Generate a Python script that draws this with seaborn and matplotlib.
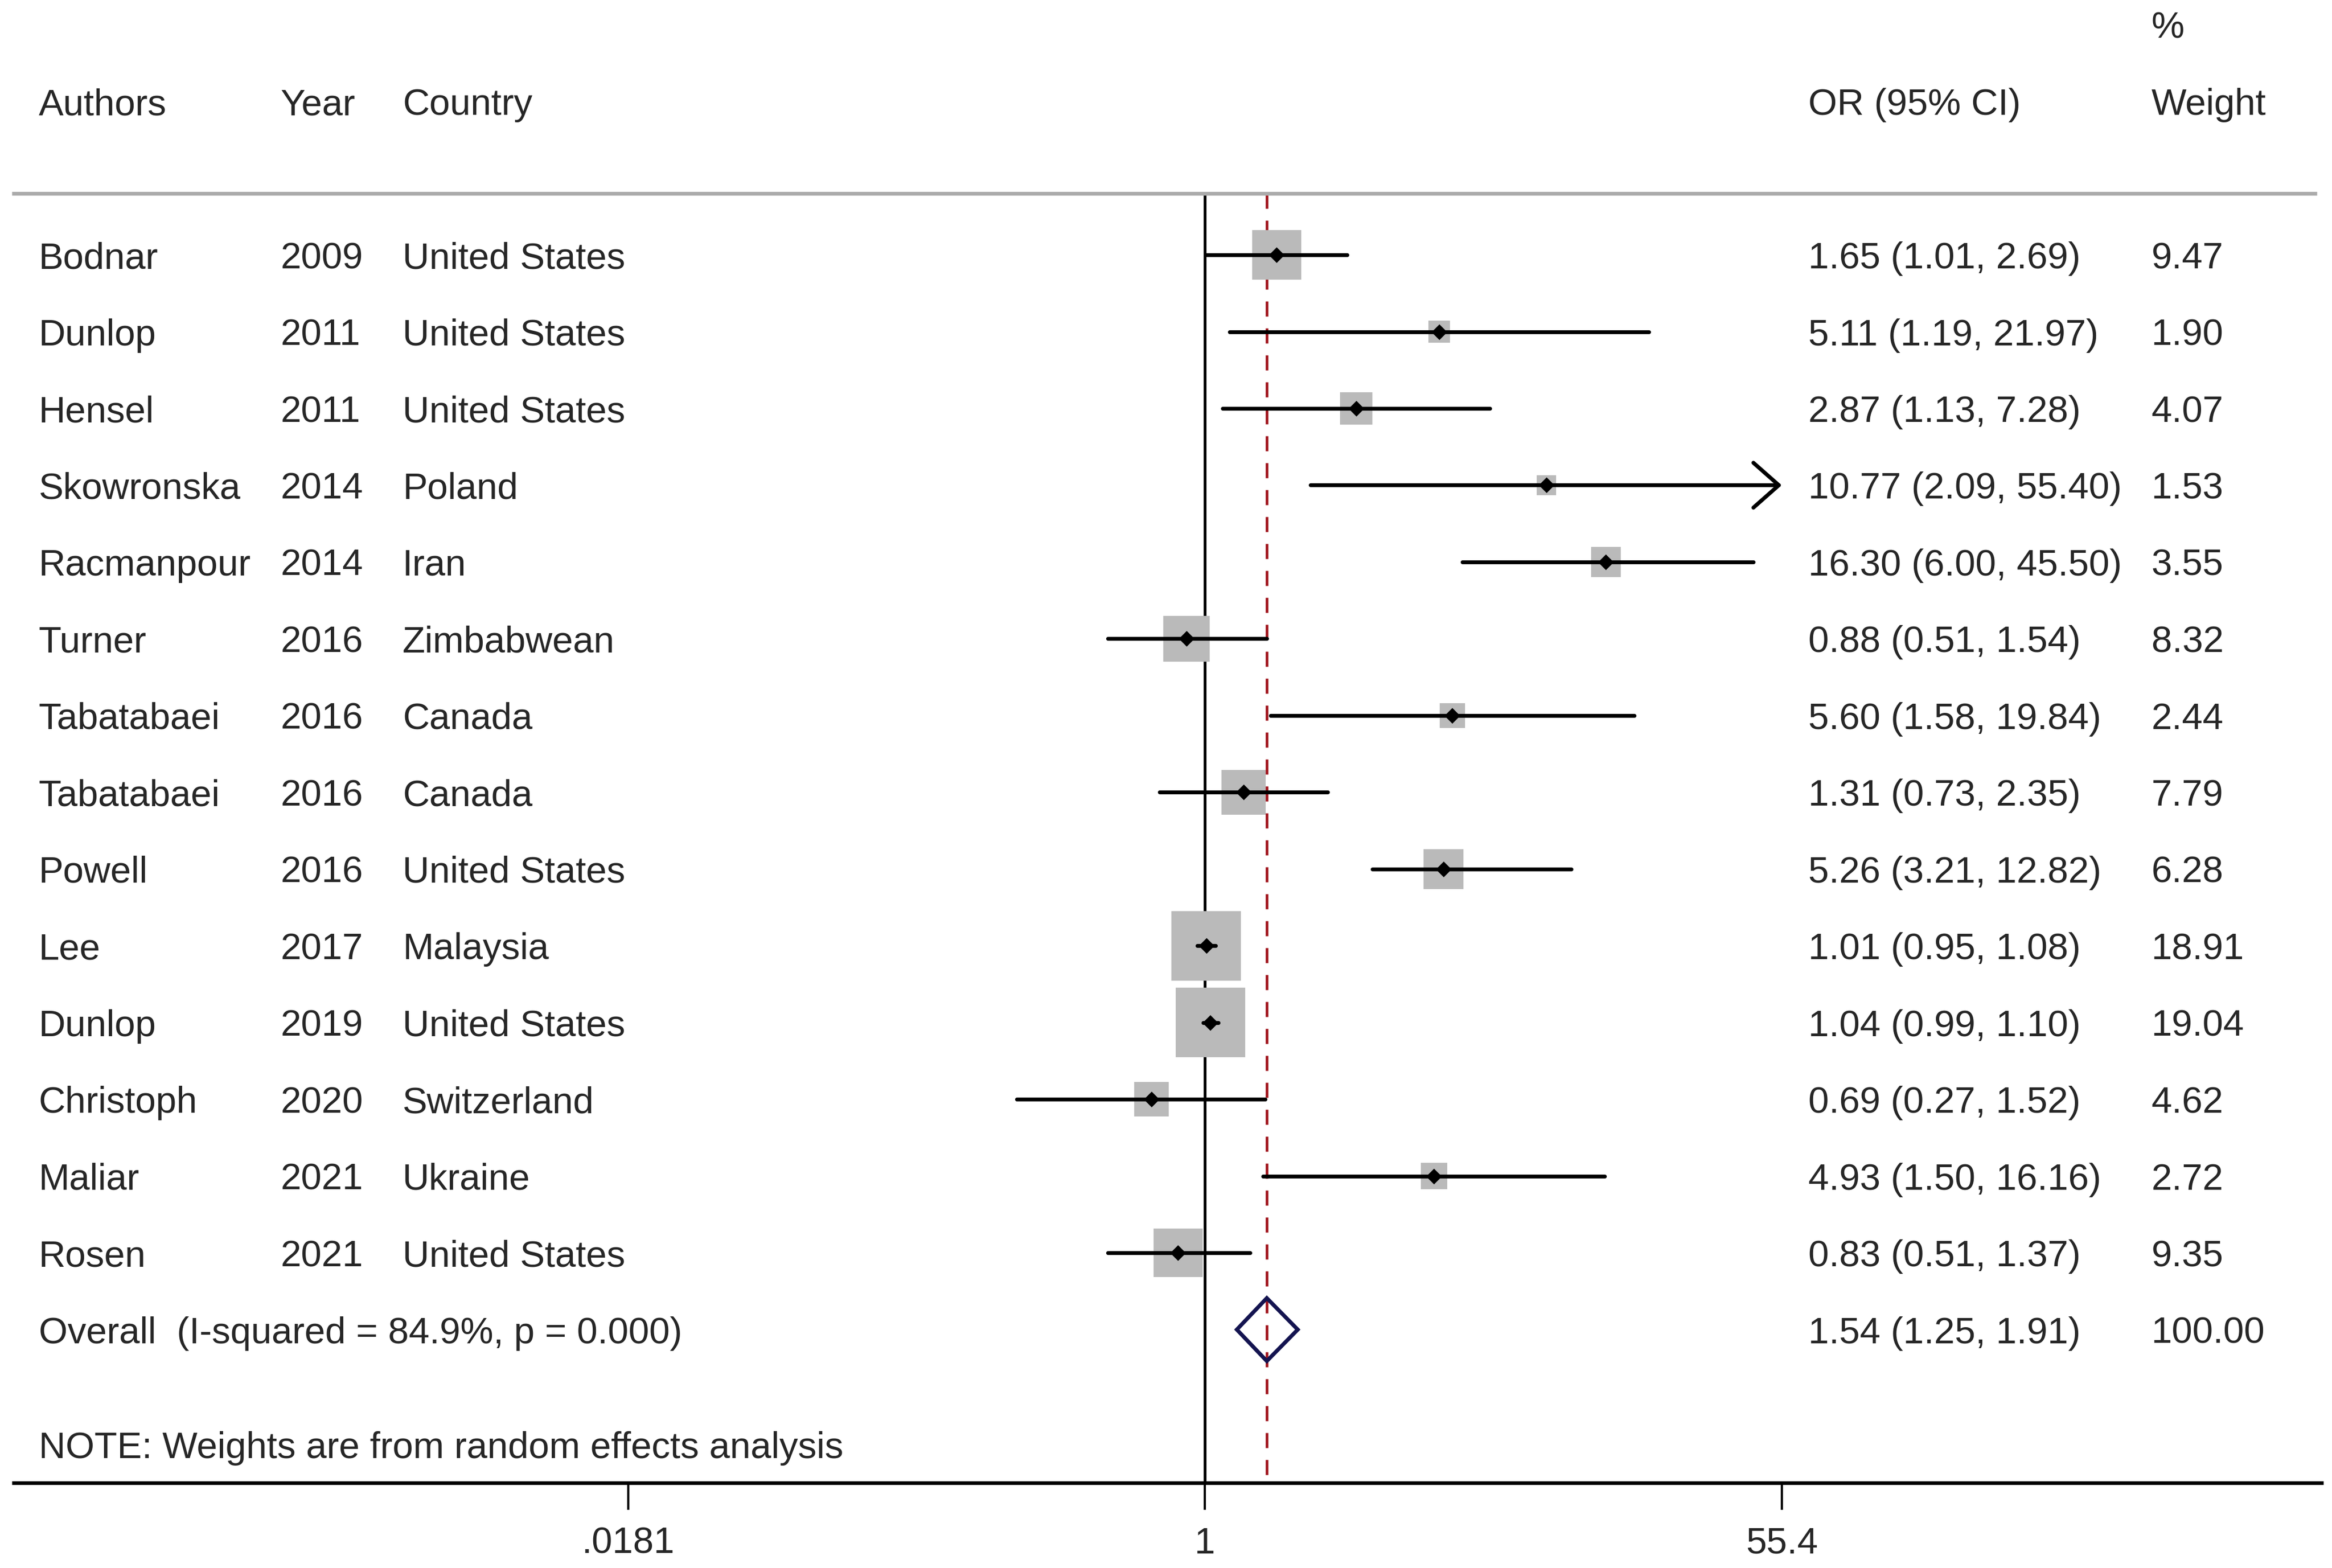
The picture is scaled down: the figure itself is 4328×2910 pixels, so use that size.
# Forest plot of odds ratios (random effects meta-analysis)
import numpy as np
import pandas as pd
import matplotlib
matplotlib.use("Agg")
import matplotlib.pyplot as plt
import matplotlib.transforms as mtransforms
import seaborn as sns

# Study data
authors = ["Bodnar", "Dunlop", "Hensel", "Skowronska", "Racmanpour", "Turner",
           "Tabatabaei", "Tabatabaei", "Powell", "Lee", "Dunlop", "Christoph",
           "Maliar", "Rosen"]
years = [2009, 2011, 2011, 2014, 2014, 2016, 2016, 2016, 2016, 2017, 2019,
         2020, 2021, 2021]
countries = ["United States", "United States", "United States", "Poland", "Iran",
             "Zimbabwean", "Canada", "Canada", "United States", "Malaysia",
             "United States", "Switzerland", "Ukraine", "United States"]
odds = [1.65, 5.11, 2.87, 10.77, 16.30, 0.88, 5.60, 1.31, 5.26, 1.01, 1.04,
        0.69, 4.93, 0.83]
lower = [1.01, 1.19, 1.13, 2.09, 6.00, 0.51, 1.58, 0.73, 3.21, 0.95, 0.99,
         0.27, 1.50, 0.51]
upper = [2.69, 21.97, 7.28, 55.40, 45.50, 1.54, 19.84, 2.35, 12.82, 1.08, 1.10,
         1.52, 16.16, 1.37]
weights = [9.47, 1.90, 4.07, 1.53, 3.55, 8.32, 2.44, 7.79, 6.28, 18.91, 19.04,
           4.62, 2.72, 9.35]

# Pooled estimate
overall_or = 1.54
overall_lo = 1.25
overall_hi = 1.91
overall_weight = 100.00
overall_label = "Overall  (I-squared = 84.9%, p = 0.000)"
note_text = "NOTE: Weights are from random effects analysis"

# Axis ticks
tick_values = [0.0181, 1, 55.4]
tick_labels = [".0181", "1", "55.4"]

df = pd.DataFrame({"author": authors, "year": years, "country": countries,
                   "or": odds, "lo": lower, "hi": upper, "w": weights})
df["row"] = np.arange(len(df))
n = len(df)
overall_row = n
note_row = n + 1.5
axis_row = n + 2

sns.set_style("white")
plt.rcParams["font.family"] = ["Liberation Sans", "DejaVu Sans"]
FS = 24.8

fig = plt.figure(figsize=(21.64, 14.55), dpi=200)
ax = fig.add_axes([0, 0, 1, 1])

# boxes sized by weight (area proportional to weight)
k = 114
sns.scatterplot(data=df, x="or", y="row", size="w",
                sizes=(k * df["w"].min(), k * df["w"].max()),
                size_norm=(df["w"].min(), df["w"].max()),
                marker="s", color="#bababa", linewidth=0, legend=False,
                zorder=3, ax=ax)
# point estimates
sns.scatterplot(data=df, x="or", y="row", marker="D", s=55, color="black",
                linewidth=0, legend=False, zorder=5, ax=ax)

ax.set_xscale("log")
ax.set_xlim(2.29e-4, 2547)
ax.set_ylim(17.106, -3.321)
ax.axis("off")

x_max = max(tick_values)
x_min = min(tick_values)

# confidence intervals, with arrow when beyond axis range
for _, r in df.iterrows():
    lo = max(r["lo"], x_min)
    if r["hi"] >= x_max:
        ax.annotate("", xy=(x_max, r["row"]), xytext=(lo, r["row"]),
                    arrowprops=dict(arrowstyle="->,head_length=0.85,head_width=0.75",
                                    lw=2.6, color="black", shrinkA=0, shrinkB=0,
                                    mutation_scale=20),
                    zorder=4)
    else:
        ax.hlines(r["row"], lo, r["hi"], color="black", lw=2.6, zorder=4,
                  capstyle="round")

# reference line at 1 and pooled estimate line (behind the boxes)
ax.vlines(1, -0.8, axis_row, color="black", lw=1.9, zorder=1)
ax.vlines(overall_or, -0.8, axis_row, color="#a31c24", lw=1.8,
          linestyles=(0, (5.6, 4.4)), zorder=2)

# pooled diamond
dh = 0.41
ax.fill([overall_lo, overall_or, overall_hi, overall_or],
        [overall_row, overall_row - dh, overall_row, overall_row + dh],
        facecolor="none", edgecolor="#141450", lw=2.6, zorder=7)

# header and bottom rules
tr = mtransforms.blended_transform_factory(ax.transAxes, ax.transData)
ax.plot([0.005, 0.9936], [-0.8, -0.8], color="#ababab", lw=2.5, transform=tr,
        solid_capstyle="butt")
ax.plot([0.005, 0.9962], [axis_row, axis_row], color="black", lw=2.4,
        transform=tr, solid_capstyle="butt", zorder=8)
for tv, tl in zip(tick_values, tick_labels):
    ax.vlines(tv, axis_row, axis_row + 0.35, color="black", lw=1.5)
    ax.text(tv, axis_row + 0.74, tl, fontsize=FS, ha="center",
            va="center_baseline")

# text columns
col_author, col_year, col_country, col_or, col_w = 0.0166, 0.1202, 0.1726, 0.7755, 0.9225
txt = dict(fontsize=FS, va="center_baseline", ha="left", transform=tr)
ax.text(col_w, -3.0, "%", **txt)
for x, s in [(col_author, "Authors"), (col_year, "Year"), (col_country, "Country"),
             (col_or, "OR (95% CI)"), (col_w, "Weight")]:
    ax.text(x, -2.0, s, **txt)

for _, r in df.iterrows():
    ax.text(col_author, r["row"], r["author"], **txt)
    ax.text(col_year, r["row"], str(r["year"]), **txt)
    ax.text(col_country, r["row"], r["country"], **txt)
    ax.text(col_or, r["row"], f"{r['or']:.2f} ({r['lo']:.2f}, {r['hi']:.2f})", **txt)
    ax.text(col_w, r["row"], f"{r['w']:.2f}", **txt)

ax.text(col_author, overall_row, overall_label, **txt)
ax.text(col_or, overall_row, f"{overall_or:.2f} ({overall_lo:.2f}, {overall_hi:.2f})", **txt)
ax.text(col_w, overall_row, f"{overall_weight:.2f}", **txt)
ax.text(col_author, note_row, note_text, **txt)

fig.savefig("out.png", dpi=200, facecolor="white")
